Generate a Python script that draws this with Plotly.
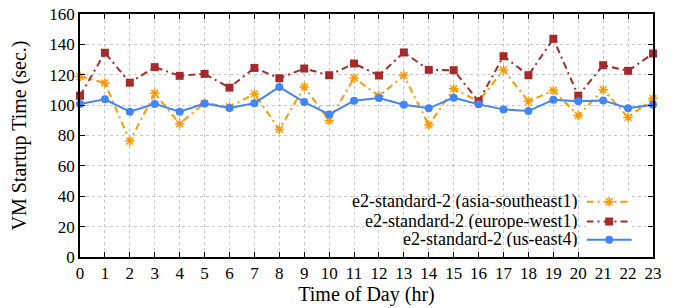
import plotly.graph_objects as go

hours = list(range(24))
asia = [118.8, 114.6, 76.3, 107.8, 87.7, 101.3, 98.8, 107.4, 84.0, 112.0, 89.9, 117.9,
        106.0, 119.5, 86.9, 110.7, 102.5, 123.2, 102.5, 109.6, 93.2, 110.2, 91.9, 104.3]
europe = [106.2, 134.5, 114.8, 125.0, 119.3, 120.6, 111.5, 124.5, 117.7, 124.1, 119.7, 127.4,
          119.5, 134.7, 123.2, 123.0, 102.5, 132.2, 119.7, 143.7, 106.2, 126.3, 122.6, 134.0]
useast = [100.8, 103.8, 95.7, 100.8, 95.7, 101.0, 98.1, 101.2, 112.0, 102.0, 93.9, 102.9,
          104.7, 100.3, 97.9, 104.9, 100.5, 97.2, 96.1, 103.6, 102.5, 103.1, 97.9, 100.3]
names = ["e2-standard-2 (asia-southeast1)", "e2-standard-2 (europe-west1)", "e2-standard-2 (us-east4)"]
colors = ["#ff9900", "#a52a2a", "#4285f4"]
dashes = ["7px,4px,2px,4px", "7px,4px,2px,4px", "solid"]
symbols = ["asterisk-open", "square", "circle"]
yticks = [0, 20, 40, 60, 80, 100, 120, 140, 160]

FONT = "Liberation Serif"
fig = go.Figure()
series = [asia, europe, useast]


def marker(i):
    if symbols[i] == "asterisk-open":
        return dict(symbol="asterisk-open", size=8, color=colors[i], line=dict(width=1.5, color=colors[i]))
    return dict(symbol=symbols[i], size=8, color=colors[i], line=dict(width=0))


fig.add_shape(type="rect", xref="paper", yref="paper", x0=0.366, x1=1.0, y0=0.0, y1=0.263,
              fillcolor="white", line=dict(width=0), layer="between")

for i, s in enumerate(series):
    fig.add_trace(go.Scatter(x=hours, y=s, mode="lines+markers", name=names[i],
                             line=dict(color=colors[i], width=2, dash=dashes[i]),
                             marker=marker(i), showlegend=False, cliponaxis=False))

# custom legend (text left of sample) on a separate small axis pair
leg_rows = [0.865, 0.555, 0.27]
for i in range(3):
    fig.add_trace(go.Scatter(x=[0.0, 0.5, 1.0], y=[leg_rows[i]] * 3, xaxis="x2", yaxis="y2",
                             mode="lines", line=dict(color=colors[i], width=2, dash=dashes[i]),
                             showlegend=False, hoverinfo="skip", cliponaxis=False))
    fig.add_trace(go.Scatter(x=[0.5], y=[leg_rows[i]], xaxis="x2", yaxis="y2", mode="markers",
                             marker=marker(i), showlegend=False, hoverinfo="skip", cliponaxis=False))
    fig.add_annotation(x=0.0, y=leg_rows[i], xref="x2", yref="y2", text=names[i], showarrow=False,
                       xanchor="right", xshift=-9, yanchor="middle", height=15, valign="middle",
                       borderpad=0, font=dict(family=FONT, size=18, color="#000"))

axis_common = dict(showline=True, linecolor="black", linewidth=1.5, mirror="ticks",
                   ticks="inside", ticklen=5, tickcolor="black", ticklabeloverflow="allow",
                   showgrid=True, gridcolor="#c8c8c8", griddash="dot", gridwidth=1,
                   zeroline=False, tickfont=dict(family=FONT, size=17, color="#000"))
# page body adds an 8px offset, so the figure is 8px smaller and margins compensate
fig.update_layout(
    width=671, height=300, margin=dict(l=72, r=26, t=6, b=51),
    paper_bgcolor="white", plot_bgcolor="white",
    font=dict(family=FONT, size=17, color="#000"),
    xaxis=dict(range=[0, 23], tickvals=hours, domain=[0, 1], automargin=False,
               title=dict(text="Time of Day (hr)", standoff=0, font=dict(family=FONT, size=20)), **axis_common),
    yaxis=dict(range=[0, 160], tickvals=yticks, domain=[0, 1], automargin=False,
               title=dict(text="VM Startup Time (sec.)", standoff=22, font=dict(family=FONT, size=20)), **axis_common),
    xaxis2=dict(domain=[0.884, 0.963], range=[0, 1], visible=False, anchor="y2", fixedrange=True),
    yaxis2=dict(domain=[0.0, 0.263], range=[0, 1], visible=False, anchor="x2", fixedrange=True),
)
fig.write_html("out.html")
